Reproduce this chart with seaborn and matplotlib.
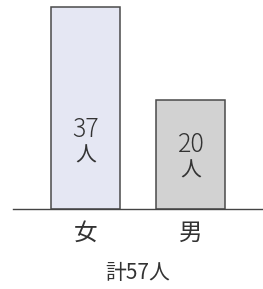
import pandas as pd
import matplotlib
matplotlib.use("Agg")
import matplotlib.pyplot as plt
import seaborn as sns

# data
categories = ["女", "男"]
counts = [37, 20]
total_label = "計57人"
bar_colors = ["#e3e5f5", "#d2d2d2"]
# vertical position of the in-bar labels (data units)
label_y = [12.1, 9.4]


def main():
    sns.set_theme(style="white")
    plt.rcParams["font.family"] = ["Noto Sans CJK JP", "DejaVu Sans"]

    df = pd.DataFrame({"sex": categories, "count": counts})

    fig = plt.figure(figsize=(2.63, 2.89), dpi=100)
    ax = fig.add_axes([0.049, 0.277, 0.947, 0.723])

    sns.barplot(
        data=df, x="sex", y="count", hue="sex", palette=bar_colors,
        width=0.655, edgecolor="#4a4a4a", linewidth=1.1, legend=False, ax=ax,
    )

    ax.set_xlim(-0.687, 1.673)
    ax.set_ylim(0, 38.35)
    ax.set_xlabel("")
    ax.set_ylabel("")
    ax.set_yticks([])
    ax.tick_params(axis="x", length=0, pad=9)
    ax.set_xticks(range(len(categories)))
    ax.set_xticklabels(categories, fontsize=17, color="#333333")
    for s in ["top", "right", "left"]:
        ax.spines[s].set_visible(False)
    ax.spines["bottom"].set_color("#444444")
    ax.spines["bottom"].set_linewidth(1.0)

    for i, (n, y) in enumerate(zip(counts, label_y)):
        ax.text(i, y + 2.4, f"{n}", ha="center", va="center", fontsize=18,
                color="#333333", fontweight="light")
        ax.text(i, y - 2.3, "人", ha="center", va="center", fontsize=15,
                color="#333333")

    fig.text(0.525, 0.055, total_label, ha="center", va="center",
             fontsize=15, color="#333333")

    fig.savefig("out.png", dpi=100)


if __name__ == "__main__":
    main()
